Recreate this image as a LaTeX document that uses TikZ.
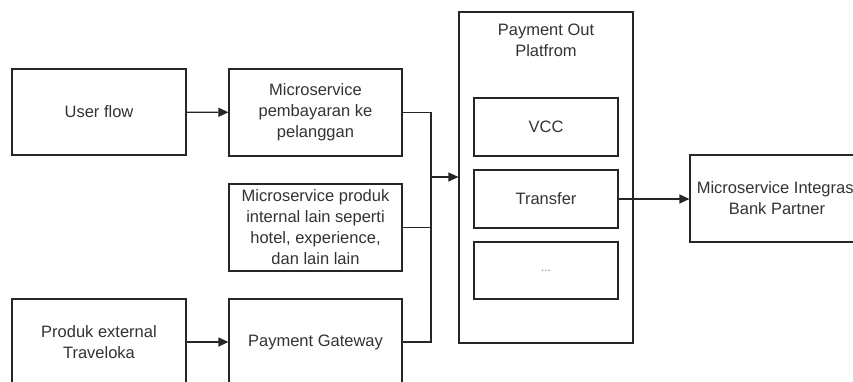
\documentclass[tikz,border=0pt]{standalone}
\usepackage{fontspec}
\setmainfont{Liberation Sans}
\usetikzlibrary{arrows.meta}
\begin{document}
\begin{tikzpicture}[x=1pt,y=-1pt,
  box/.style={draw=black!85,line width=1.2pt,fill=white,align=center,text=black!80,
    font=\fontsize{16.5}{21}\selectfont,inner sep=0pt},
  conn/.style={draw=black!85,line width=1.2pt},
  arr/.style={conn,-{Triangle[length=10pt,width=9pt]}}]
\useasboundingbox (0,0) rectangle (853,382);
\clip (0,0) rectangle (853,382);
\fill[white] (0,0) rectangle (853,382);
% left column
\node[box,minimum width=174pt,minimum height=86pt] (user) at (99,112) {User flow};
\node[box,minimum width=174pt,minimum height=86pt] (ext) at (99,342) {Produk external\\Traveloka};
% middle column
\node[box,minimum width=173pt,minimum height=87pt] (pay) at (315.5,112.5) {Microservice\\pembayaran ke\\pelanggan};
\node[box,minimum width=173pt,minimum height=87pt] (prod) at (315.5,227.5) {Microservice produk\\internal lain seperti\\hotel, experience,\\dan lain lain};
\node[box,minimum width=173pt,minimum height=86pt] (pg) at (315.5,342) {Payment Gateway};
% platform
\node[box,minimum width=174pt,minimum height=331pt] (plat) at (546,177.5) {};
\node[box,draw=none,fill=none] (plattitle) at (546,40) {Payment Out\\Platfrom};
\node[box,minimum width=144pt,minimum height=58pt] (vcc) at (546,127) {VCC};
\node[box,minimum width=144pt,minimum height=58pt] (tr) at (546,199) {Transfer};
\node[box,minimum width=144pt,minimum height=57pt,font=\fontsize{12}{14}\selectfont,text=black!50] (more) at (546,270.5) {...};
% bank
\node[box,minimum width=174pt,minimum height=87pt] (bank) at (777,198.5) {Microservice Integrasi\\Bank Partner};
% connectors
\coordinate (j) at (431,177);
\draw[arr] (user) -- (pay);
\draw[arr] (ext) -- (pg);
\draw[conn] (pay.east) -| (j);
\draw[conn] (prod.east) -| (j);
\draw[conn] (pg.east) -| (j);
\draw[arr] (j) -- (plat.west |- j);
\draw[arr] (tr.east) -- (bank.west |- tr.east);
\end{tikzpicture}
\end{document}
